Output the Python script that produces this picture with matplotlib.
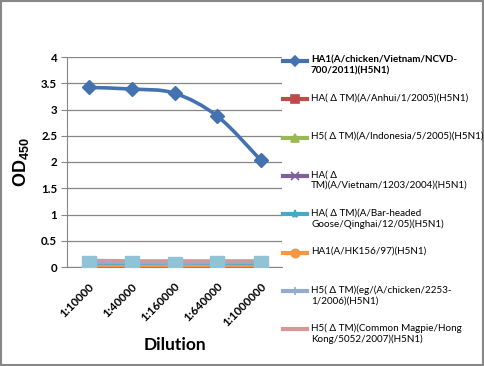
import matplotlib
matplotlib.use("Agg")
import matplotlib.pyplot as plt
from matplotlib.lines import Line2D
from matplotlib.patches import Rectangle, PathPatch
from matplotlib.path import Path
import numpy as np

categories = ["1:10000", "1:40000", "1:160000", "1:640000", "1:1000000"]
series_names = [
    "HA1(A/chicken/Vietnam/NCVD-\n700/2011)(H5N1)",
    "HA( \u0394 TM)(A/Anhui/1/2005)(H5N1)",
    "H5( \u0394 TM)(A/Indonesia/5/2005)(H5N1)",
    "HA( \u0394\nTM)(A/Vietnam/1203/2004)(H5N1)",
    "HA( \u0394 TM)(A/Bar-headed\nGoose/Qinghai/12/05)(H5N1)",
    "HA1(A/HK156/97)(H5N1)",
    "H5( \u0394 TM)(eg/(A/chicken/2253-\n1/2006)(H5N1)",
    "H5( \u0394 TM)(Common Magpie/Hong\nKong/5052/2007)(H5N1)",
]
s1 = [3.42, 3.39, 3.31, 2.87, 2.04]
s2 = [0.01, 0.01, 0.01, 0.01, 0.01]
s3 = [0.11, 0.10, 0.10, 0.10, 0.10]
s4 = [0.05, 0.05, 0.04, 0.05, 0.05]
s5 = [0.06, 0.06, 0.05, 0.06, 0.06]
s6 = [0.02, 0.02, 0.02, 0.02, 0.02]
s7 = [0.08, 0.08, 0.07, 0.08, 0.08]
s8 = [0.13, 0.12, 0.12, 0.12, 0.12]
s9 = [0.08, 0.08, 0.06, 0.07, 0.07]
yticks = [0, 0.5, 1, 1.5, 2, 2.5, 3, 3.5, 4]

colors = ["#4472B0", "#BE4B48", "#98B954", "#7D60A0", "#46AAC5",
          "#F69545", "#94AAD3", "#D99694"]
markers = ["D", "s", "^", "x", "*", "o", "+", None]
sq_color = "#8FC3D5"

plt.rcParams['font.family'] = ['Lato', 'DejaVu Sans']
plt.rcParams['mathtext.default'] = 'regular'
W, H = 485, 366
fig = plt.figure(figsize=(W / 100, H / 100), dpi=100)
fig.patches.append(Rectangle((0.002, 0.002), 0.994, 0.994, transform=fig.transFigure,
                             fill=False, edgecolor="#878787", linewidth=1.5))

L, R, T, B = 67, 282, 57, 267
ax = fig.add_axes([L / W, 1 - B / H, (R - L) / W, (B - T) / H])
x = np.arange(len(categories))
ax.set_xlim(-0.5, len(categories) - 0.5)
ax.set_ylim(0, 4)

# low series (straight lines)
low = [s2, s3, s4, s5, s6, s7, s8]
for i, s in enumerate(low):
    c = colors[i + 1]
    ax.plot(x, s, color=c, lw=2.2, marker=markers[i + 1], ms=5, zorder=3,
            markeredgecolor=c, markerfacecolor=c, mew=1.2)
ax.plot(x, s9, color=sq_color, lw=0, marker="s", ms=9.5, zorder=5)

# smoothed main series (Catmull-Rom bezier drawn by matplotlib Path)
pts = np.column_stack([x, s1]).astype(float)
verts = [pts[0]]
codes = [Path.MOVETO]
n = len(pts)
for i in range(n - 1):
    p0 = pts[i - 1] if i > 0 else pts[i]
    p1 = pts[i]
    p2 = pts[i + 1]
    p3 = pts[i + 2] if i + 2 < n else pts[i + 1]
    c1 = p1 + (p2 - p0) / 6
    c2 = p2 - (p3 - p1) / 6
    verts += [c1, c2, p2]
    codes += [Path.CURVE4] * 3
ax.add_patch(PathPatch(Path(verts, codes), fill=False, edgecolor=colors[0], lw=2.6, zorder=4))
ax.plot(x, s1, lw=0, marker="D", ms=7, color=colors[0], zorder=5)

ax.set_yticks(yticks)
ax.set_yticklabels([f"{v:g}" for v in yticks], fontsize=8.3, fontweight="bold")
ax.set_xticks(x)
ax.set_xticklabels(categories, rotation=45, ha="right", va="top",
                   rotation_mode="anchor", fontsize=8.3, fontweight="bold")
ax.tick_params(axis="x", length=0, pad=10)
ax.tick_params(axis="y", length=4, direction="out", color="#868686", pad=3)
ax.grid(axis="y", color="#868686", lw=0.9)
ax.set_axisbelow(True)
for sp in ["top", "right"]:
    ax.spines[sp].set_visible(False)
ax.spines["left"].set_color("#868686")
ax.spines["bottom"].set_color("#868686")
ax.set_ylabel("OD$_{450}$", fontsize=13, fontweight="bold", family="Liberation Sans", labelpad=7)
ax.set_xlabel("Dilution", fontsize=12.5, fontweight="bold", labelpad=6)

# legend drawn manually to match Excel layout
for i, name in enumerate(series_names):
    yp = 61 + 38.3 * i
    yf = 1 - yp / H
    c = colors[i]
    fig.add_artist(Line2D([283 / W, 307 / W], [yf, yf], transform=fig.transFigure,
                          color=c, lw=3))
    if markers[i] is not None:
        fig.add_artist(Line2D([295 / W], [yf], transform=fig.transFigure, color=c,
                              marker=markers[i], ms=6 if markers[i] != "D" else 5, lw=0, mew=1.2))
    fig.text(311 / W, yf + 5.8 / H, name, fontsize=7.1, va="top", ha="left",
             fontweight="bold" if i == 0 else "normal", linespacing=1.25,
             transform=fig.transFigure)

fig.savefig("out.png", dpi=100)
